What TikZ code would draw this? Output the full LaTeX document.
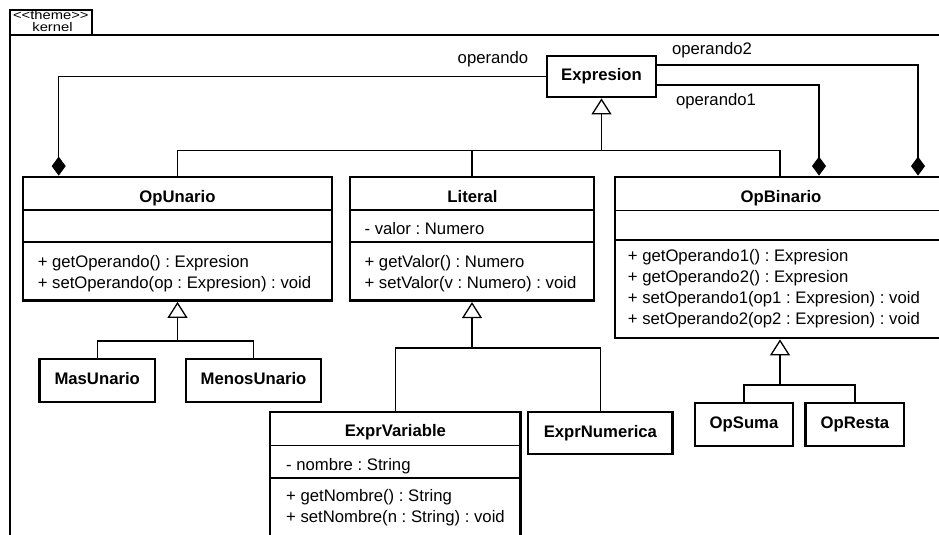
\documentclass[tikz,border=0pt]{standalone}
\usepackage{fontspec}
\setmainfont{Liberation Sans}
\usetikzlibrary{arrows.meta}
\newcommand\umltext{\fontsize{16.7}{20}\selectfont\frenchspacing}
\newcommand\umlname{\fontsize{16.7}{20}\selectfont\bfseries}
\newcommand\tabtext{\fontsize{12.5}{14}\selectfont}

\begin{document}
\begin{tikzpicture}[x=1pt,y=-1pt,
  cls/.style={draw, line width=2.8pt, inner sep=0pt, rectangle, font=\umlname,
              text height=12pt, text depth=3.5pt},
  frameline/.style={line width=1.2pt},
  rel/.style={line width=1.3pt},
  divider/.style={line width=1.2pt},
  member/.style={anchor=base west, inner sep=0pt, font=\umltext},
  title/.style={anchor=base, inner sep=0pt, font=\umlname},
  role/.style={anchor=base, inner sep=0pt, font=\umltext},
  gen/.style={rel, -{Triangle[length=16pt, width=20pt, fill=white, line width=1.3pt]}},
  comp/.style={rel, -{Diamond[length=19pt, width=14pt]}}]
\useasboundingbox (0,0) rectangle (939,535);

% package frame with its tab
\node[draw, frameline, inner sep=0pt, minimum width=82pt, minimum height=25pt] (tab) at (51,22.5) {};
\node[anchor=base, inner sep=0pt, font=\tabtext] (tabstereo) at (50.8,19.8) {\scalebox{1.18}[1]{<{}<theme>{}>}};
\node[anchor=base, inner sep=0pt, font=\tabtext] (tabname) at (52.5,31.7) {\scalebox{1.18}[1]{kernel}};
\draw[frameline] (950,35) -| (10,550);

% root class
\node[cls, minimum width=109pt, minimum height=41pt] (expresion) at (601.5,76.5) {Expresion};

% OpUnario
\node[cls, minimum width=309pt, minimum height=123.5pt] (opunario) at (177.5,238.75) {};
\draw[divider] (opunario.west |- 0,210) -- (opunario.east |- 0,210);
\draw[divider] (opunario.west |- 0,242) -- (opunario.east |- 0,242);
\node[title] (opunarioName) at (177.5,202) {OpUnario};
\node[member] (opunarioM1) at (37.6,267.5) {+ getOperando() : Expresion};
\node[member] (opunarioM2) at (37.6,288.5) {+ setOperando(op : Expresion) : void};

% Literal
\node[cls, minimum width=244pt, minimum height=123.7pt] (literal) at (472,238.85) {};
\draw[divider] (literal.west |- 0,210) -- (literal.east |- 0,210);
\draw[divider] (literal.west |- 0,242) -- (literal.east |- 0,242);
\node[title] (literalName) at (472.5,202) {Literal};
\node[member] (literalA1) at (364.4,234.5) {- valor : Numero};
\node[member] (literalM1) at (364.4,267.5) {+ getValor() : Numero};
\node[member] (literalM2) at (364.4,288.5) {+ setValor(v : Numero) : void};

% OpBinario
\node[cls, minimum width=330pt, minimum height=161pt] (opbinario) at (780,257.5) {};
\draw[divider] (opbinario.west |- 0,210.7) -- (opbinario.east |- 0,210.7);
\draw[divider] (opbinario.west |- 0,240) -- (opbinario.east |- 0,240);
\node[title] (opbinarioName) at (781,202) {OpBinario};
\node[member] (opbinarioM1) at (627.7,261) {+ getOperando1() : Expresion};
\node[member] (opbinarioM2) at (627.7,282) {+ getOperando2() : Expresion};
\node[member] (opbinarioM3) at (627.7,303) {+ setOperando1(op1 : Expresion) : void};
\node[member] (opbinarioM4) at (627.7,324) {+ setOperando2(op2 : Expresion) : void};

% leaf classes
\node[cls, minimum width=115.7pt, minimum height=43pt] (masunario) at (97.2,380.5) {MasUnario};
\node[cls, minimum width=135pt, minimum height=43pt] (menosunario) at (253.5,380.5) {MenosUnario};
\node[cls, minimum width=144.7pt, minimum height=42pt] (exprnumerica) at (600.4,433) {ExprNumerica};
\node[cls, minimum width=98pt, minimum height=43pt] (opsuma) at (744,424.5) {OpSuma};
\node[cls, minimum width=98.3pt, minimum height=43pt] (opresta) at (854.9,424.5) {OpResta};

% ExprVariable
\node[cls, minimum width=250.7pt, minimum height=133pt] (exprvariable) at (395.35,478.5) {};
\draw[divider] (exprvariable.west |- 0,445.7) -- (exprvariable.east |- 0,445.7);
\draw[divider] (exprvariable.west |- 0,478) -- (exprvariable.east |- 0,478);
\node[title] (exprvariableName) at (395.4,436.7) {ExprVariable};
\node[member] (exprvariableA1) at (286,470) {- nombre : String};
\node[member] (exprvariableM1) at (286,501.7) {+ getNombre() : String};
\node[member] (exprvariableM2) at (286,522.7) {+ setNombre(n : String) : void};

% generalizations to Expresion
\draw[rel] (opunario.north) -- (opunario.north |- 0,150.7) -- (opbinario.north |- 0,150.7) -- (opbinario.north);
\draw[rel] (literal.north) -- (literal.north |- 0,150.7);
\draw[gen] (expresion.south |- 0,150.7) -- (expresion.south);

% generalizations to OpUnario
\draw[rel] (masunario.north) -- (masunario.north |- 0,341) -- (menosunario.north |- 0,341) -- (menosunario.north);
\draw[gen] (opunario.south |- 0,341) -- (opunario.south);

% generalizations to Literal
\draw[rel] (exprvariable.north) -- (exprvariable.north |- 0,348) -- (exprnumerica.north |- 0,348) -- (exprnumerica.north);
\draw[gen] (literal.south |- 0,348) -- (literal.south);

% generalizations to OpBinario
\draw[rel] (opsuma.north) -- (opsuma.north |- 0,385) -- (opresta.north |- 0,385) -- (opresta.north);
\draw[gen] (opbinario.south |- 0,385) -- (opbinario.south);

% compositions
\draw[comp] (expresion.west) -| (opunario.north -| 58.7,0);
\draw[comp] (expresion.east |- 0,85) -| (opbinario.north -| 819,0);
\draw[comp] (expresion.east |- 0,65) -| (opbinario.north -| 918,0);
\node[role] (roleOp) at (493,63.3) {operando};
\node[role] (roleOp1) at (716,105.7) {operando1};
\node[role] (roleOp2) at (712,54.5) {operando2};
\end{tikzpicture}
\end{document}
